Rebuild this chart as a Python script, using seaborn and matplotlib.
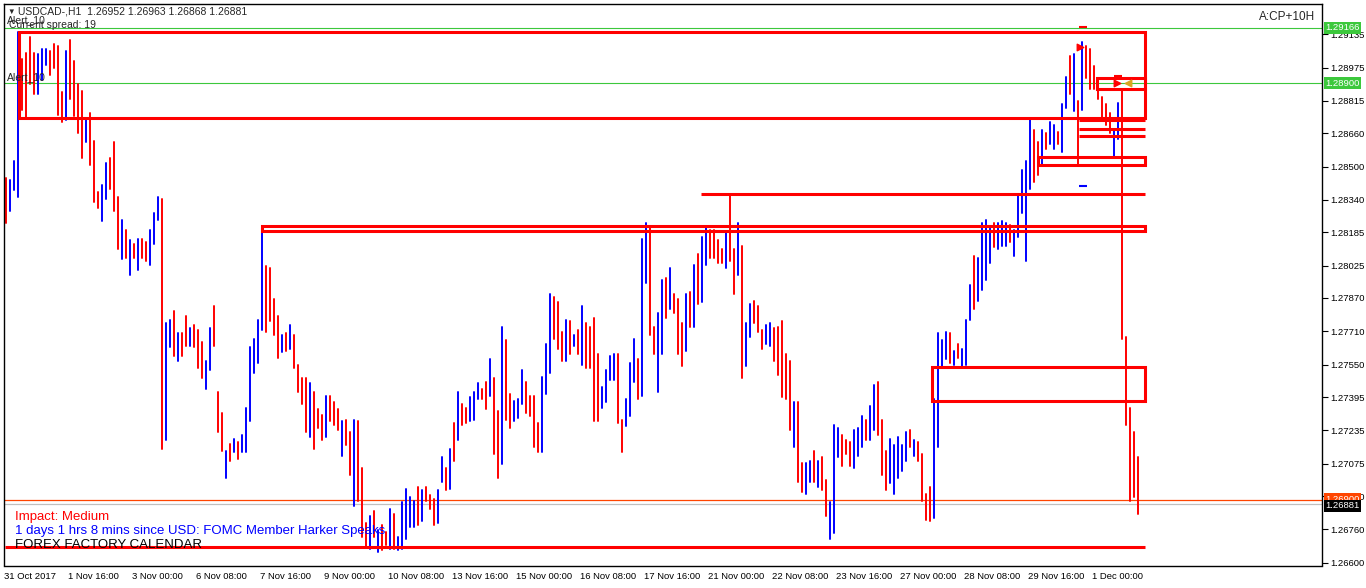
import pandas as pd
import matplotlib.pyplot as plt
from matplotlib.patches import Rectangle
from matplotlib.transforms import ScaledTranslation
import seaborn as sns

# USDCAD H1, shown as 2-hour bars (high / low)
highs = [
    1.28444, 1.28435, 1.28526, 1.29146, 1.29014, 1.29047, 1.29121, 1.29047, 1.29039, 1.29064,
    1.29064, 1.29055, 1.29088, 1.29080, 1.28857, 1.29055, 1.29105, 1.29006, 1.28898, 1.28865,
    1.28733, 1.28758, 1.28625, 1.28378, 1.28411, 1.28518, 1.28543, 1.28617, 1.28353, 1.28245,
    1.28196, 1.28146, 1.28130, 1.28154, 1.28154, 1.28138, 1.28196, 1.28278, 1.28353, 1.28344,
    1.27749, 1.27766, 1.27807, 1.27700, 1.27700, 1.27783, 1.27725, 1.27741, 1.27716, 1.27659,
    1.27568, 1.27725, 1.27832, 1.27419, 1.27320, 1.27138, 1.27171, 1.27196, 1.27179, 1.27212,
    1.27344, 1.27634, 1.27675, 1.27766, 1.28196, 1.28022, 1.28014, 1.27865, 1.27783, 1.27692,
    1.27700, 1.27741, 1.27692, 1.27551, 1.27485, 1.27485, 1.27460, 1.27419, 1.27336, 1.27311,
    1.27402, 1.27402, 1.27369, 1.27336, 1.27278, 1.27287, 1.27229, 1.27287, 1.27278, 1.27055,
    1.26791, 1.26824, 1.26849, 1.26758, 1.26783, 1.26749, 1.26857, 1.26832, 1.26725, 1.26890,
    1.26956, 1.26915, 1.26898, 1.26964, 1.26948, 1.26964, 1.26923, 1.26906, 1.26948, 1.27105,
    1.27055, 1.27146, 1.27270, 1.27419, 1.27361, 1.27344, 1.27394, 1.27419, 1.27460, 1.27435,
    1.27468, 1.27576, 1.27485, 1.27328, 1.27733, 1.27667, 1.27411, 1.27378, 1.27386, 1.27526,
    1.27468, 1.27402, 1.27402, 1.27270, 1.27493, 1.27650, 1.27890, 1.27873, 1.27849, 1.27708,
    1.27766, 1.27758, 1.27692, 1.27716, 1.27832, 1.27749, 1.27733, 1.27774, 1.27601, 1.27444,
    1.27526, 1.27592, 1.27601, 1.27601, 1.27287, 1.27386, 1.27559, 1.27675, 1.27576, 1.28154,
    1.28229, 1.28204, 1.27733, 1.27799, 1.27956, 1.27964, 1.28014, 1.27890, 1.27865, 1.27749,
    1.27890, 1.27898, 1.28030, 1.28080, 1.28163, 1.28204, 1.28196, 1.28196, 1.28146, 1.28105,
    1.28187, 1.28361, 1.28105, 1.28229, 1.28121, 1.27749, 1.27840, 1.27857, 1.27832, 1.27716,
    1.27741, 1.27749, 1.27725, 1.27733, 1.27758, 1.27601, 1.27568, 1.27369, 1.27369, 1.27080,
    1.27080, 1.27088, 1.27138, 1.27088, 1.27105, 1.26997, 1.26890, 1.27262, 1.27245, 1.27212,
    1.27187, 1.27179, 1.27237, 1.27245, 1.27303, 1.27287, 1.27353, 1.27452, 1.27468, 1.27287,
    1.27138, 1.27196, 1.27163, 1.27204, 1.27163, 1.27229, 1.27237, 1.27187, 1.27179, 1.27121,
    1.26931, 1.26964, 1.27386, 1.27700, 1.27667, 1.27708, 1.27700, 1.27617, 1.27650, 1.27625,
    1.27766, 1.27931, 1.28072, 1.28064, 1.28229, 1.28245, 1.28212, 1.28229, 1.28229, 1.28237,
    1.28229, 1.28221, 1.28196, 1.28361, 1.28485, 1.28526, 1.28733, 1.28675, 1.28617, 1.28675,
    1.28659, 1.28716, 1.28700, 1.28667, 1.28799, 1.28931, 1.29030, 1.29039, 1.28816, 1.29097,
    1.29080, 1.29064, 1.28981, 1.28923, 1.28832, 1.28799, 1.28758, 1.28675, 1.28807, 1.28873,
    1.27683, 1.27344, 1.27229, 1.27105,
]
lows = [
    1.28229, 1.28287, 1.28386, 1.28353, 1.28774, 1.28733, 1.28898, 1.28849, 1.28849, 1.28915,
    1.28989, 1.28940, 1.28973, 1.28749, 1.28716, 1.28725, 1.28824, 1.28741, 1.28659, 1.28543,
    1.28617, 1.28510, 1.28328, 1.28303, 1.28237, 1.28344, 1.28394, 1.28287, 1.28105, 1.28055,
    1.28064, 1.27981, 1.28064, 1.28006, 1.28064, 1.28047, 1.28030, 1.28130, 1.28245, 1.27146,
    1.27187, 1.27634, 1.27592, 1.27568, 1.27592, 1.27642, 1.27642, 1.27634, 1.27535, 1.27485,
    1.27435, 1.27526, 1.27642, 1.27229, 1.27138, 1.27006, 1.27088, 1.27130, 1.27097, 1.27130,
    1.27130, 1.27278, 1.27510, 1.27559, 1.27716, 1.27708, 1.27758, 1.27692, 1.27584, 1.27609,
    1.27617, 1.27625, 1.27535, 1.27419, 1.27361, 1.27229, 1.27204, 1.27146, 1.27245, 1.27187,
    1.27204, 1.27278, 1.27262, 1.27237, 1.27113, 1.27163, 1.27022, 1.26873, 1.26898, 1.26725,
    1.26675, 1.26667, 1.26725, 1.26650, 1.26659, 1.26683, 1.26667, 1.26667, 1.26659, 1.26667,
    1.26716, 1.26774, 1.26774, 1.26783, 1.26799, 1.26898, 1.26857, 1.26783, 1.26791, 1.26989,
    1.26948, 1.26956, 1.27088, 1.27187, 1.27262, 1.27270, 1.27278, 1.27287, 1.27386, 1.27386,
    1.27336, 1.27402, 1.27121, 1.27006, 1.27072, 1.27287, 1.27245, 1.27278, 1.27295, 1.27361,
    1.27320, 1.27303, 1.27154, 1.27130, 1.27130, 1.27411, 1.27510, 1.27675, 1.27625, 1.27568,
    1.27568, 1.27601, 1.27642, 1.27601, 1.27551, 1.27535, 1.27535, 1.27278, 1.27278, 1.27344,
    1.27369, 1.27477, 1.27477, 1.27270, 1.27130, 1.27254, 1.27303, 1.27468, 1.27386, 1.27402,
    1.27940, 1.27692, 1.27601, 1.27419, 1.27601, 1.27774, 1.27816, 1.27799, 1.27601, 1.27543,
    1.27617, 1.27733, 1.27733, 1.27840, 1.27849, 1.28030, 1.28064, 1.28064, 1.28039, 1.28039,
    1.28014, 1.28047, 1.27890, 1.27981, 1.27485, 1.27543, 1.27683, 1.27749, 1.27708, 1.27625,
    1.27650, 1.27642, 1.27568, 1.27502, 1.27394, 1.27386, 1.27237, 1.27154, 1.26989, 1.26940,
    1.26931, 1.26989, 1.26989, 1.26964, 1.26948, 1.26824, 1.26716, 1.26741, 1.27105, 1.27064,
    1.27121, 1.27064, 1.27055, 1.27113, 1.27154, 1.27187, 1.27187, 1.27237, 1.27212, 1.27022,
    1.26948, 1.26981, 1.26931, 1.27006, 1.27039, 1.27088, 1.27154, 1.27113, 1.27088, 1.26898,
    1.26807, 1.26799, 1.26816, 1.27154, 1.27543, 1.27576, 1.27559, 1.27551, 1.27584, 1.27543,
    1.27551, 1.27766, 1.27816, 1.27857, 1.27906, 1.27956, 1.28039, 1.28113, 1.28105, 1.28121,
    1.28121, 1.28138, 1.28072, 1.28163, 1.28278, 1.28047, 1.28394, 1.28427, 1.28460, 1.28502,
    1.28584, 1.28609, 1.28584, 1.28609, 1.28568, 1.28783, 1.28849, 1.28766, 1.28510, 1.28774,
    1.28923, 1.28873, 1.28873, 1.28824, 1.28725, 1.28700, 1.28659, 1.28551, 1.28634, 1.27675,
    1.27262, 1.26898, 1.26915, 1.26832,
]
# b = bull bar (blue), r = bear bar (red)
bar_dirs = ("rbbbrrrrbb" "brrrrbrrrr" "brrrbbrrrb" "rbrbrrbbbr" "bbrbrrbrrr"
            "bbrrrbrbrb" "bbbbbrrrrb" "rbrrrrbrrr" "brrrbrrbrr" "rbrbrrbrbb"
            "bbbrbrrrbb" "rbrbrrbbbr" "rbrrbrrbbb" "rrrrbbbrrr" "brbrbrrrrb"
            "bbbrrbbbrb" "brrbbrbrrr" "brbrbbrrrr" "brrbrbbrrr" "bbrrrrrbrr"
            "bbrbrrbbbr" "rrbbbrbbrr" "rbbbbbrbrr" "rrbbbbrbrb" "bbrbbbbrbb"
            "brbbbbbrrb" "rbbrbbrbrb" "rrrrrrrbbr" "rrrr")
assert len(highs) == len(lows) == len(bar_dirs)

xtick_labels = ["31 Oct 2017", "1 Nov 16:00", "3 Nov 00:00", "6 Nov 08:00", "7 Nov 16:00",
                "9 Nov 00:00", "10 Nov 08:00", "13 Nov 16:00", "15 Nov 00:00", "16 Nov 08:00",
                "17 Nov 16:00", "21 Nov 00:00", "22 Nov 08:00", "23 Nov 16:00", "27 Nov 00:00",
                "28 Nov 08:00", "29 Nov 16:00", "1 Dec 00:00"]
ytick_values = [1.29135, 1.28975, 1.28815, 1.28660, 1.28500, 1.28340, 1.28185, 1.28025,
                1.27870, 1.27710, 1.27550, 1.27395, 1.27235, 1.27075, 1.26920, 1.26760, 1.26600]

# supply / demand boxes: first bar, last bar, top, bottom
zones = [(3.25, 284.75, 1.29146, 1.28733),
         (64.0, 284.75, 1.28215, 1.28193),
         (231.5, 284.75, 1.27539, 1.27376),
         (272.75, 284.75, 1.28923, 1.28873),
         (258.0, 284.75, 1.28546, 1.28508)]
# single levels: first bar, last bar, price
levels = [(173.75, 284.75, 1.28368),
          (-0.25, 284.75, 1.26676),
          (268.25, 284.75, 1.28722),
          (268.25, 284.75, 1.28682),
          (268.25, 284.75, 1.28649)]
green_levels = [1.29166, 1.28900]
alert_level = 1.26900
bid = 1.26881

bars = pd.DataFrame({"bar": list(range(len(highs))) * 2,
                     "price": highs + lows,
                     "dir": list(bar_dirs) * 2})

sns.set_style("white")
plt.rcParams["font.family"] = ["Liberation Sans", "DejaVu Sans"]

W, H = 1366, 588
fig = plt.figure(figsize=(W / 100, H / 100), dpi=100)
ax = fig.add_axes([4 / W, 22.5 / H, 1318 / W, 561.5 / H])

sns.lineplot(data=bars, x="bar", y="price", units="bar", estimator=None, hue="dir",
             palette={"b": "#0000ff", "r": "#ff0000"}, legend=False, linewidth=1.4,
             sort=False, ax=ax, zorder=2)

# full-width lines
for lv in green_levels:
    ax.axhline(lv, color="#3cc83c", lw=0.8, zorder=1)
ax.axhline(alert_level, color="#ff4500", lw=0.9, zorder=1)
ax.axhline(bid, color="#c0c0c0", lw=0.9, zorder=1)

for x0, x1, top, bot in zones:
    ax.add_patch(Rectangle((x0, bot), x1 - x0, top - bot, fill=False,
                           ec="#ff0000", lw=2.2, zorder=3))
for x0, x1, p in levels:
    ax.hlines(p, x0, x1, color="#ff0000", lw=2.2, zorder=3)

# trade arrows near the top
ax.scatter([268.5, 277.75], [1.29074, 1.28900], marker=">", s=22, color="#ff0000", zorder=4)
ax.scatter([269.25, 278.0], [1.29170, 1.28934], marker="_", s=30, color="#ff0000", zorder=4)
ax.scatter([269.25], [1.28407], marker="_", s=30, color="#0000ff", zorder=4)
ax.scatter([280.5], [1.28900], marker="<", s=22, color="#daa520", zorder=4)

ax.set_xlim(-0.5, 329)
ax.set_ylim(1.26587, 1.29280)
ax.set_xlabel("")
ax.set_ylabel("")

# x axis
ax.set_xticks([16 * i - 0.4 for i in range(len(xtick_labels))])
ax.set_xticklabels(xtick_labels, ha="left", fontsize=6.8)
shift = ScaledTranslation(2 / 72, 0, fig.dpi_scale_trans)
for lab in ax.get_xticklabels():
    lab.set_transform(lab.get_transform() + shift)

# y axis on the right
ax.yaxis.tick_right()
ax.set_yticks(ytick_values)
ax.set_yticklabels([f"{v:.5f}" for v in ytick_values], fontsize=6.8)
ax.tick_params(axis="both", direction="out", length=4, width=0.8, color="black",
               pad=2, labelcolor="black")
ax.tick_params(axis="x", pad=1)
for s in ax.spines.values():
    s.set_color("black")
    s.set_linewidth(1.0)

# price tags on the scale
ytr = ax.get_yaxis_transform()
for lv in green_levels:
    ax.text(1.0025, lv, f"{lv:.5f}", transform=ytr, color="white", fontsize=6.8,
            va="center", ha="left", clip_on=False, zorder=6,
            bbox=dict(boxstyle="square,pad=0.18", fc="#3cc83c", ec="none"))
ax.text(1.0025, alert_level + 0.00003, f"{alert_level:.5f}", transform=ytr, color="white",
        fontsize=6.8, va="center", ha="left", clip_on=False, zorder=6,
        bbox=dict(boxstyle="square,pad=0.18", fc="#ff4500", ec="none"))
ax.text(1.0025, bid - 0.00008, f"{bid:.5f}", transform=ytr, color="white", fontsize=6.8,
        va="center", ha="left", clip_on=False, zorder=7,
        bbox=dict(boxstyle="square,pad=0.18", fc="black", ec="none"))

# chart texts
def px(x, y):
    return x / W, 1 - y / H

fig.text(*px(7, 12), "\u25bc", fontsize=5.5, va="center", ha="left")
fig.text(*px(18, 12), "USDCAD-,H1  1.26952 1.26963 1.26868 1.26881", fontsize=7.5,
         va="center", ha="left")
fig.text(*px(7, 20.5), "Alert_10", fontsize=7.5, va="center", ha="left")
fig.text(*px(9, 25.5), "Current spread: 19", fontsize=7.5, va="center", ha="left")
fig.text(*px(7, 77), "Alert_10", fontsize=7.5, va="center", ha="left")
fig.text(*px(1315, 16.5), "A:CP+10H", fontsize=8.5, va="center", ha="right")
fig.text(*px(15, 517), "Impact: Medium", fontsize=9.5, color="#ff0000", va="center", ha="left")
fig.text(*px(15, 531), "1 days 1 hrs 8 mins since USD: FOMC Member Harker Speaks",
         fontsize=9.5, color="#0000ff", va="center", ha="left")
fig.text(*px(15, 545), "FOREX FACTORY CALENDAR", fontsize=9.5, color="black",
         va="center", ha="left")

fig.savefig("out.png", dpi=100, facecolor="white")
